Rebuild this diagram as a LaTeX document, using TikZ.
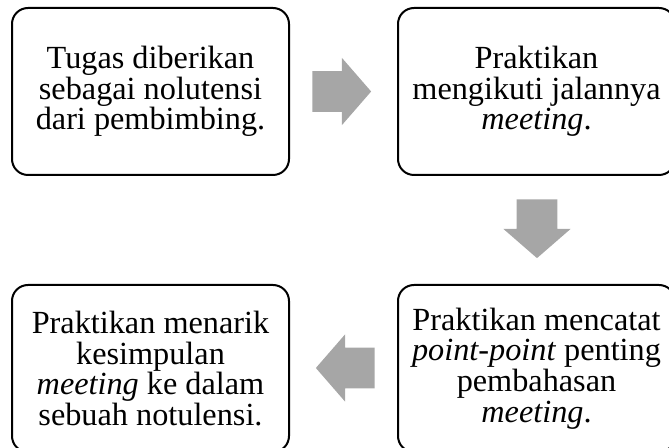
\documentclass[tikz,border=0pt]{standalone}
\usepackage{fontspec}
\setmainfont{Liberation Serif}
\usepackage{tikz}
\usetikzlibrary{shapes.arrows}
\usepackage{xcolor}
\definecolor{arrowgray}{RGB}{166,166,166}

\begin{document}
\begin{tikzpicture}[
    x=0.75pt, y=-0.75pt,
    box/.style={
        rectangle,
        draw=black,
        line width=1.5pt,
        rounded corners=12pt,
        minimum width=207.75pt,
        minimum height=125.25pt,
        inner sep=0pt,
        align=center,
        font=\fontsize{24.2}{22.9}\selectfont
    },
    blockarrow/.style={
        single arrow,
        fill=arrowgray,
        draw=none,
        inner xsep=0pt,
        inner ysep=15pt,
        minimum height=44pt,
        single arrow head extend=10.1pt,
        single arrow tip angle=98
    }
]

\useasboundingbox (0,0) rectangle (669,448);
\clip (0,0) rectangle (669,448);

\node[box] (tugas)    at (150.5,91.5)  {Tugas diberikan\\sebagai nolutensi\\dari pembimbing.};
\node[box] (ikut)     at (536.5,91.5)  {Praktikan\\mengikuti jalannya\\\textit{meeting}.};
\node[box] (catat)    at (536.5,368.5) {Praktikan mencatat\\\textit{point-point} penting\\pembahasan\\\textit{meeting}.};
\node[box] (simpulan) at (150.5,368.5) {Praktikan menarik\\kesimpulan\\\textit{meeting} ke dalam\\sebuah notulensi.};

\node[blockarrow]             (a1) at (333,91.5)  {};
\node[blockarrow, rotate=-90] (a2) at (537,220)   {};
\node[blockarrow, rotate=180] (a3) at (354,368)   {};

\end{tikzpicture}
\end{document}
